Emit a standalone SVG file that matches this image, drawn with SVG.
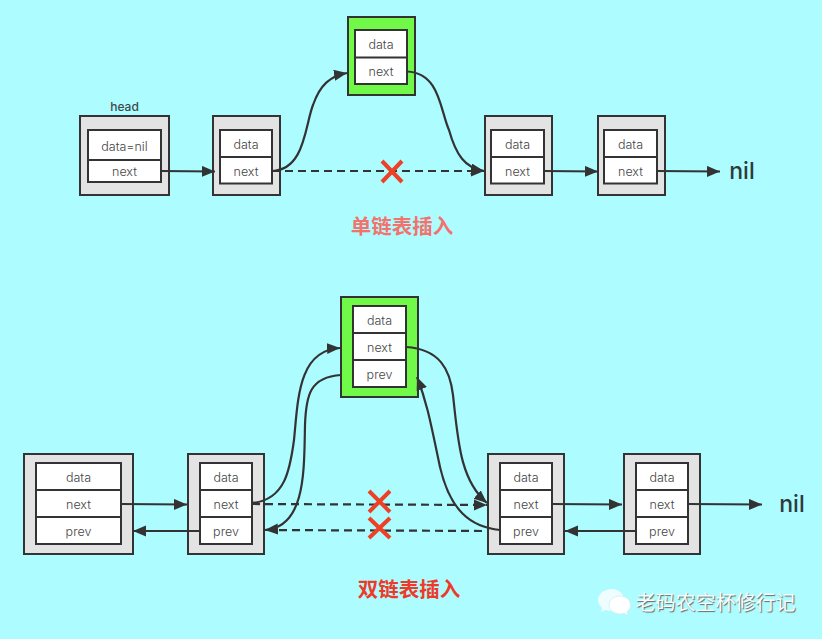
<svg xmlns="http://www.w3.org/2000/svg" width="822" height="639" viewBox="0 0 822 639">
<style>
.o{fill:#e3e3e3;stroke:#333;stroke-width:2}
.g{fill:#71f94a;stroke:#333;stroke-width:2}
.i{fill:#fff;stroke:#333;stroke-width:2}
text{font-family:"Inter","Liberation Sans",sans-serif;text-anchor:middle}
.t{font-size:12.5px;font-weight:300;fill:#444}
.c{fill:none;stroke:#333;stroke-width:2.200}
.d{fill:none;stroke:#333;stroke-width:2.200;stroke-dasharray:8 5}
.x{fill:none;stroke:#ee4026;stroke-width:4}
.nil{font-size:23px;font-weight:500;fill:#2f3a3a}
.cn{font-family:"Noto Sans CJK SC","Liberation Sans",sans-serif;font-size:20.500px;font-weight:700}
</style>
<defs>
<marker id="a" markerUnits="userSpaceOnUse" markerWidth="14" markerHeight="12" refX="13" refY="5.5" orient="auto"><path d="M0 0L13 5.5L0 11z" fill="#333"/></marker>
</defs>
<rect width="822" height="639" fill="#adfcff"/>
<g id="head"><rect class="o" x="80" y="116" width="89" height="79"/><rect class="i" x="88" y="130" width="73" height="52"/><path class="i" d="M88 160H161"/><text class="t" x="124.500" y="151">data=nil</text><text class="t" x="124.500" y="176">next</text><text x="124.500" y="111" font-size="12" font-weight="500" fill="#3e4a4a">head</text></g>
<g id="s2"><rect class="o" x="213" y="116" width="67" height="79"/><rect class="i" x="220" y="130" width="52" height="53.500"/><path class="i" d="M220 157H272"/><text class="t" x="246" y="149">data</text><text class="t" x="246" y="176">next</text></g>
<g id="s3"><rect class="g" x="348" y="17" width="67" height="78"/><rect class="i" x="355" y="30" width="52" height="54"/><path class="i" d="M355 57.500H407"/><text class="t" x="381" y="49">data</text><text class="t" x="381" y="76">next</text></g>
<g id="s4"><rect class="o" x="485" y="116" width="67" height="79"/><rect class="i" x="491" y="130" width="53" height="53.500"/><path class="i" d="M491 157H544"/><text class="t" x="517.500" y="149">data</text><text class="t" x="517.500" y="176">next</text></g>
<g id="s5"><rect class="o" x="598" y="116" width="67" height="79"/><rect class="i" x="604" y="130" width="53" height="53.500"/><path class="i" d="M604 157H657"/><text class="t" x="630.500" y="149">data</text><text class="t" x="630.500" y="176">next</text></g>
<g id="nil1"><text class="nil" x="742" y="179">nil</text></g>
<g id="d1"><rect class="o" x="24" y="454" width="109" height="100"/><rect class="i" x="36" y="463" width="85" height="81"/><path class="i" d="M36 490H121M36 517H121"/><text class="t" x="78.500" y="482">data</text><text class="t" x="78.500" y="509">next</text><text class="t" x="78.500" y="536">prev</text></g>
<g id="d2"><rect class="o" x="188" y="454" width="76" height="100"/><rect class="i" x="200" y="463" width="52" height="81"/><path class="i" d="M200 490H252M200 517H252"/><text class="t" x="226" y="482">data</text><text class="t" x="226" y="509">next</text><text class="t" x="226" y="536">prev</text></g>
<g id="d3"><rect class="g" x="341" y="297" width="77" height="100"/><rect class="i" x="353" y="306" width="53" height="81"/><path class="i" d="M353 333H406M353 360H406"/><text class="t" x="379.500" y="325">data</text><text class="t" x="379.500" y="352">next</text><text class="t" x="379.500" y="379">prev</text></g>
<g id="d4"><rect class="o" x="488" y="454" width="76" height="100"/><rect class="i" x="500" y="463" width="52" height="81"/><path class="i" d="M500 490H552M500 517H552"/><text class="t" x="526" y="482">data</text><text class="t" x="526" y="509">next</text><text class="t" x="526" y="536">prev</text></g>
<g id="d5"><rect class="o" x="624" y="454" width="76" height="100"/><rect class="i" x="636" y="463" width="52" height="81"/><path class="i" d="M636 490H688M636 517H688"/><text class="t" x="662" y="482">data</text><text class="t" x="662" y="509">next</text><text class="t" x="662" y="536">prev</text></g>
<g id="nil2"><text class="nil" x="792" y="512">nil</text></g>
<g id="connectors">
<path class="c" marker-end="url(#a)" d="M161 171L215 171.500"/>
<path class="c" marker-end="url(#a)" d="M272 171C305 170 305 125 313 105C320 85 330 76 347 73"/>
<path class="d" marker-end="url(#a)" d="M272 171H484"/>
<path class="c" marker-end="url(#a)" d="M407 71.500C440 73 440 110 449 130C456 155 465 168 484 171"/>
<path class="c" marker-end="url(#a)" d="M544 171L598 171.500"/>
<path class="c" marker-end="url(#a)" d="M657 171L720 171.500"/>
<path class="c" marker-end="url(#a)" d="M121 504L187 504.500"/>
<path class="c" marker-end="url(#a)" d="M199 531H133"/>
<path class="c" marker-end="url(#a)" d="M252 503C285 500 290 470 294 440C298 400 298 350 340 348"/>
<path class="c" marker-end="url(#a)" d="M341 375C310 377 306 395 305 425C304 470 306 527 265 530"/>
<path class="d" marker-end="url(#a)" d="M252 504L487 505"/>
<path class="d" d="M266 530L487 531"/>
<path class="c" marker-end="url(#a)" d="M406 347C440 349 450 370 453 395C458 440 460 480 487 503"/>
<path class="c" marker-end="url(#a)" d="M500 530C470 527 450 510 440 467C432 430 428 405 417 377"/>
<path class="c" marker-end="url(#a)" d="M552 504L622 504.500"/>
<path class="c" marker-end="url(#a)" d="M636 531H565"/>
<path class="c" marker-end="url(#a)" d="M688 504L762 504.500"/>
</g>
<g id="marks">
<path class="x" d="M382 161L402 182M402 161L382 182"/>
<path class="x" d="M369 491L390 512M390 491L369 512"/>
<path class="x" d="M369 518L390 538M390 518L369 538"/>
</g>
<text class="cn" x="402" y="234" fill="#f2736e">单链表插入</text>
<text class="cn" x="409" y="597" fill="#ee3a28">双链表插入</text>
<g id="watermark">
<path d="M612 589c-8 0-14 5-14 11 0 3 2 6 4 8l-1 4 5-2c2 .5 4 1 6 1 7 0 12-5 12-11s-5-11-12-11z" fill="#f0fdfe"/>
<path d="M620 596c-6 0-11 4-11 9s5 9 11 9c1.500 0 3-.3 4-.7l4 2-1-3.500c2.500-1.700 3.500-4.300 3.500-6.800 0-5-4.500-9-10.500-9z" fill="#ffffff" stroke="#cfeef0" stroke-width=".8"/>
<text x="715.500" y="610" style="font-family:'Noto Sans CJK SC',sans-serif;font-size:20px;fill:#f4ffff;text-shadow:1px 1px 1px #666">老码农空杯修行记</text>
</g>
</svg>
